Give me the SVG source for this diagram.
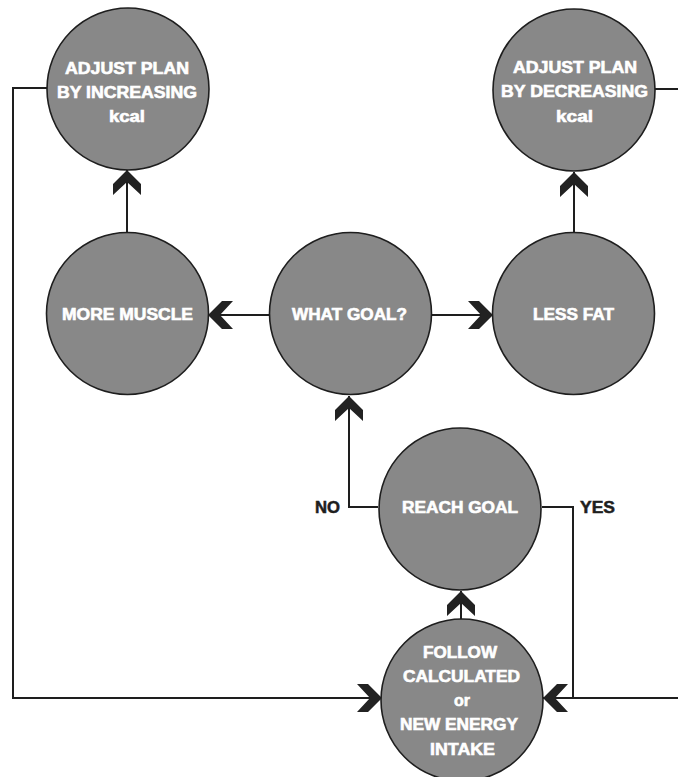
<svg xmlns="http://www.w3.org/2000/svg" width="678" height="777" viewBox="0 0 678 777">
<style>
.node{fill:#888888;stroke:#1e1e1e;stroke-width:1.6}
.lbl{font-family:"Liberation Sans",Arial,sans-serif;font-weight:bold;font-size:16px;fill:#ffffff;stroke:#ffffff;stroke-width:0.6;text-anchor:middle}
.side{font-family:"Liberation Sans",Arial,sans-serif;font-weight:bold;font-size:16px;fill:#1e1e1e;stroke:#1e1e1e;stroke-width:0.5;text-anchor:middle}
.conn{fill:none;stroke:#1e1e1e;stroke-width:2}
</style>
<defs>
<marker id="chev" markerUnits="userSpaceOnUse" viewBox="-26 -15 27 30" markerWidth="27" markerHeight="30" refX="0" refY="0" orient="auto">
<path d="M0,0 L-14,-14 L-25,-14 L-12,0 L-25,14 L-14,14 Z" fill="#222222"/>
</marker>
</defs>
<rect width="678" height="777" fill="#ffffff"/>
<g id="connectors">
<path class="conn" d="M47,88 H13 V698 H382" marker-end="url(#chev)"/>
<path class="conn" d="M655,89 H678"/>
<path class="conn" d="M678,698 H543" marker-end="url(#chev)"/>
<path class="conn" d="M542,507 H573 V698"/>
<path class="conn" d="M378,507 H349 V396" marker-end="url(#chev)"/>
<path class="conn" d="M127,232 V170" marker-end="url(#chev)"/>
<path class="conn" d="M574,232 V172" marker-end="url(#chev)"/>
<path class="conn" d="M269,315 H208" marker-end="url(#chev)"/>
<path class="conn" d="M432,315 H493" marker-end="url(#chev)"/>
<path class="conn" d="M461,619 V591" marker-end="url(#chev)"/>
</g>
<g id="adjust-increase">
<circle class="node" cx="128" cy="89" r="81"/>
<text class="lbl" x="127" y="74" textLength="124" lengthAdjust="spacingAndGlyphs">ADJUST PLAN</text>
<text class="lbl" x="127" y="98" textLength="140" lengthAdjust="spacingAndGlyphs">BY INCREASING</text>
<text class="lbl" x="127" y="122" textLength="36" lengthAdjust="spacingAndGlyphs">kcal</text>
</g>
<g id="adjust-decrease">
<circle class="node" cx="574" cy="90" r="81"/>
<text class="lbl" x="575" y="73" textLength="124" lengthAdjust="spacingAndGlyphs">ADJUST PLAN</text>
<text class="lbl" x="574.5" y="97" textLength="147" lengthAdjust="spacingAndGlyphs">BY DECREASING</text>
<text class="lbl" x="574.5" y="122" textLength="37" lengthAdjust="spacingAndGlyphs">kcal</text>
</g>
<g id="more-muscle">
<circle class="node" cx="127.5" cy="313.5" r="81"/>
<text class="lbl" x="127.5" y="320" textLength="131" lengthAdjust="spacingAndGlyphs">MORE MUSCLE</text>
</g>
<g id="what-goal">
<circle class="node" cx="350.5" cy="313.5" r="81"/>
<text class="lbl" x="349.5" y="320" textLength="115" lengthAdjust="spacingAndGlyphs">WHAT GOAL?</text>
</g>
<g id="less-fat">
<circle class="node" cx="573.5" cy="313.5" r="81"/>
<text class="lbl" x="573.5" y="320" textLength="81" lengthAdjust="spacingAndGlyphs">LESS FAT</text>
</g>
<g id="reach-goal">
<circle class="node" cx="460" cy="509" r="81"/>
<text class="lbl" x="460" y="513" textLength="116" lengthAdjust="spacingAndGlyphs">REACH GOAL</text>
</g>
<g id="follow-intake">
<circle class="node" cx="462" cy="700" r="81"/>
<text class="lbl" x="460" y="658" textLength="74" lengthAdjust="spacingAndGlyphs">FOLLOW</text>
<text class="lbl" x="461.5" y="682" textLength="117" lengthAdjust="spacingAndGlyphs">CALCULATED</text>
<text class="lbl" x="462" y="706" textLength="16" lengthAdjust="spacingAndGlyphs">or</text>
<text class="lbl" x="459" y="730" textLength="118" lengthAdjust="spacingAndGlyphs">NEW ENERGY</text>
<text class="lbl" x="462.5" y="755" textLength="65" lengthAdjust="spacingAndGlyphs">INTAKE</text>
</g>
<g id="labels">
<text class="side" x="327.5" y="513" textLength="25" lengthAdjust="spacingAndGlyphs">NO</text>
<text class="side" x="597.5" y="513" textLength="35" lengthAdjust="spacingAndGlyphs">YES</text>
</g>
</svg>
